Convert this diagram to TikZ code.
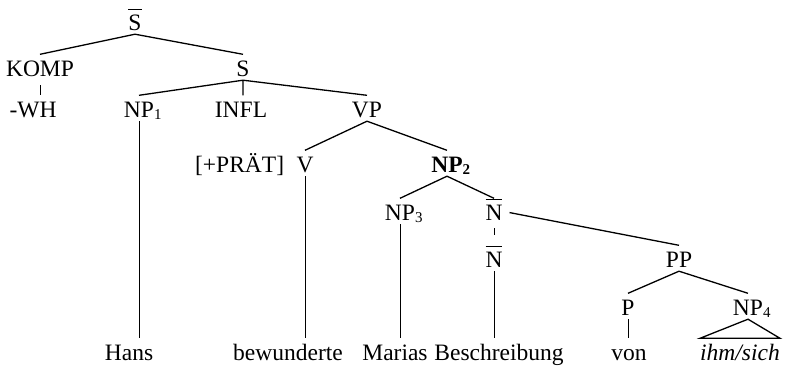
\documentclass[tikz,border=0pt]{standalone}
\usepackage{fontspec}
\setmainfont{Liberation Serif}
\usetikzlibrary{positioning}

% bar over a category label, and a small index after it
\newcommand\xbar[1]{\vbox{\hrule height 0.9pt\kern 4.5pt\hbox{#1}}}
\newcommand\idx[1]{\rlap{\raisebox{-2.5pt}{\fontsize{15}{15}\selectfont #1}}}

\begin{document}
\begin{tikzpicture}[
  x=1pt, y=-1pt,
  cat/.style={inner sep=0pt, text height=21.5pt, text depth=4pt, anchor=base, font=\fontsize{23.5}{28}\selectfont},
  word/.style={cat},
  br/.style={line width=1.3pt},
  stem/.style={line width=0.85pt}
]
\useasboundingbox (0,0) rectangle (787,370);

% categories
\node[cat] (sbar) at (135,30) {\xbar{S}};
\node[cat] (komp) at (40,76) {KOMP};
\node[cat] (s) at (243,76) {S};
\node[cat] (wh) at (33,117) {-WH};
\node[cat] (np1) at (139,117) {NP\idx{1}};
\node[cat] (infl) at (241,117) {INFL};
\node[cat] (vp) at (367,117) {VP};
\node[cat] (v) at (305,172) {V};
\node[cat, base left=12pt of v] (prat) {[+PRÄT]};
\node[cat] (np2) at (447,172) {\textbf{NP\idx{2}}};
\node[cat] (np3) at (400,220) {NP\idx{3}};
\node[cat] (nbar) at (494,220) {\xbar{N}};
\node[cat] (nbarlow) at (494,267) {\xbar{N}};
\node[cat] (pp) at (679,267) {PP};
\node[cat] (p) at (628,315) {P};
\node[cat] (np4) at (748,315) {NP\idx{4}};

% terminal string
\node[word] (hans) at (129,360) {Hans};
\node[word] (bewunderte) at (288,360) {bewunderte};
\node[word] (marias) at (395,360) {Marias};
\node[word] (beschreibung) at (499,360) {Beschreibung};
\node[word] (von) at (629,360) {von};
\node[word] (ihm) at (740,360) {\itshape ihm/sich};

% branches
\draw[br] (sbar.south) -- (komp.north) (sbar.south) -- (s.north);
\draw[stem, shorten <=5pt] (komp.south) -- (komp.south |- wh.north);
\draw[br] (s.south) -- (np1.north) (s.south) -- (s.south |- infl.north) (s.south) -- (vp.north);
\draw[br] (vp.south) -- (v.north) (vp.south) -- (np2.north);
\draw[br] (np2.south) -- (np3.north) (np2.south) -- (nbar.north);
\draw[stem, shorten <=4pt, shorten >=10pt] (nbar.south) -- (nbarlow.north);
\draw[br, shorten <=7pt] (nbar.east) -- (pp.north);
\draw[br] (pp.south) -- (p.north) (pp.south) -- (np4.north);

% stems down to the words
\draw[stem] (np1.south) -- (np1.south |- hans.north);
\draw[stem] (v.south) -- (v.south |- bewunderte.north);
\draw[stem] (np3.south) -- (np3.south |- marias.north);
\draw[stem] (nbarlow.south) -- (nbarlow.south |- beschreibung.north);
\draw[stem] (p.south) -- (p.south |- von.north);
\draw[br] (np4.south) -- (ihm.north west) -- (ihm.north east) -- cycle;

\end{tikzpicture}
\end{document}
